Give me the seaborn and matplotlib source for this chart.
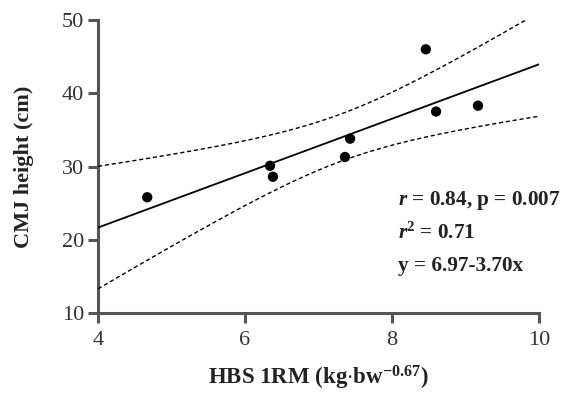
import numpy as np
import pandas as pd
import matplotlib
matplotlib.use("Agg")
import matplotlib.pyplot as plt
import seaborn as sns

# Data
hbs_1rm = [4.67, 6.34, 6.38, 7.36, 7.43, 8.46, 8.60, 9.17]
cmj_height = [25.8, 30.1, 28.6, 31.3, 33.8, 46.0, 37.5, 38.3]
x_ticks = [4, 6, 8, 10]
y_ticks = [10, 20, 30, 40, 50]
stats_lines = [r"$\mathbfit{r}$ = 0.84, p = 0.007",
               r"$\mathbfit{r}^{\mathbf{2}}$ = 0.71",
               "y = 6.97-3.70x"]

sns.set_style("ticks")
plt.rcParams["font.family"] = ["Liberation Serif", "DejaVu Serif"]
plt.rcParams["mathtext.fontset"] = "custom"
plt.rcParams["mathtext.rm"] = "Liberation Serif"
plt.rcParams["mathtext.bf"] = "Liberation Serif:bold"
plt.rcParams["mathtext.it"] = "Liberation Serif:italic"
plt.rcParams["mathtext.bfit"] = "Liberation Serif:bold:italic"

df = pd.DataFrame({"x": hbs_1rm, "y": cmj_height})

fig = plt.figure(figsize=(5.64, 3.96), dpi=100)
ax = fig.add_axes([98/564, 1-313/396, (539-98)/564, (313-20)/396])

# Linear fit and 95% confidence band
x = np.asarray(hbs_1rm)
y = np.asarray(cmj_height)
n = len(x)
b, a = np.polyfit(x, y, 1)
xs = np.linspace(4, 10, 200)
fit = a + b * xs
resid = y - (a + b * x)
s = np.sqrt(np.sum(resid**2) / (n - 2))
sxx = np.sum((x - x.mean())**2)
t = 2.4469  # t(0.975, df=6)
hw = t * s * np.sqrt(1/n + (xs - x.mean())**2 / sxx)

ax.plot(xs, fit, color="black", lw=1.3, zorder=3)
ax.plot(xs, fit + hw, color="black", lw=1.0, ls=(0, (3, 2)), zorder=3)
ax.plot(xs, fit - hw, color="black", lw=1.0, ls=(0, (3, 2)), zorder=3)

sns.scatterplot(data=df, x="x", y="y", ax=ax, color="black", s=55,
                edgecolor="none", zorder=4, clip_on=False)

ax.set_xlim(4, 10)
ax.set_ylim(10, 50)
ax.set_xticks(x_ticks)
ax.set_yticks(y_ticks)
ax.set_xticklabels([str(v) for v in x_ticks])
ax.set_yticklabels([str(v) for v in y_ticks])

for side in ["top", "right"]:
    ax.spines[side].set_visible(False)
for side in ["left", "bottom"]:
    ax.spines[side].set_color("#555555")
    ax.spines[side].set_linewidth(2.2)
ax.tick_params(axis="both", direction="out", length=7, width=2.2,
               color="#555555", labelsize=16, labelcolor="#333333")
ax.tick_params(axis="x", pad=6)
ax.tick_params(axis="y", pad=3)

ax.set_xlabel(r"HBS 1RM (kg$\cdot$bw$^{\mathbf{-0.67}}$)", fontsize=16.5,
              fontweight="bold", color="#222222", labelpad=10)
ax.set_ylabel("CMJ height (cm)", fontsize=16, fontweight="bold",
              color="#222222", labelpad=20)

for i, line in enumerate(stats_lines):
    ax.text(398/564, 1 - (200 + i*33)/396, line, transform=fig.transFigure,
            fontsize=15.3, fontweight="bold", color="#222222",
            ha="left", va="center")

fig.savefig("out.png", dpi=100)
